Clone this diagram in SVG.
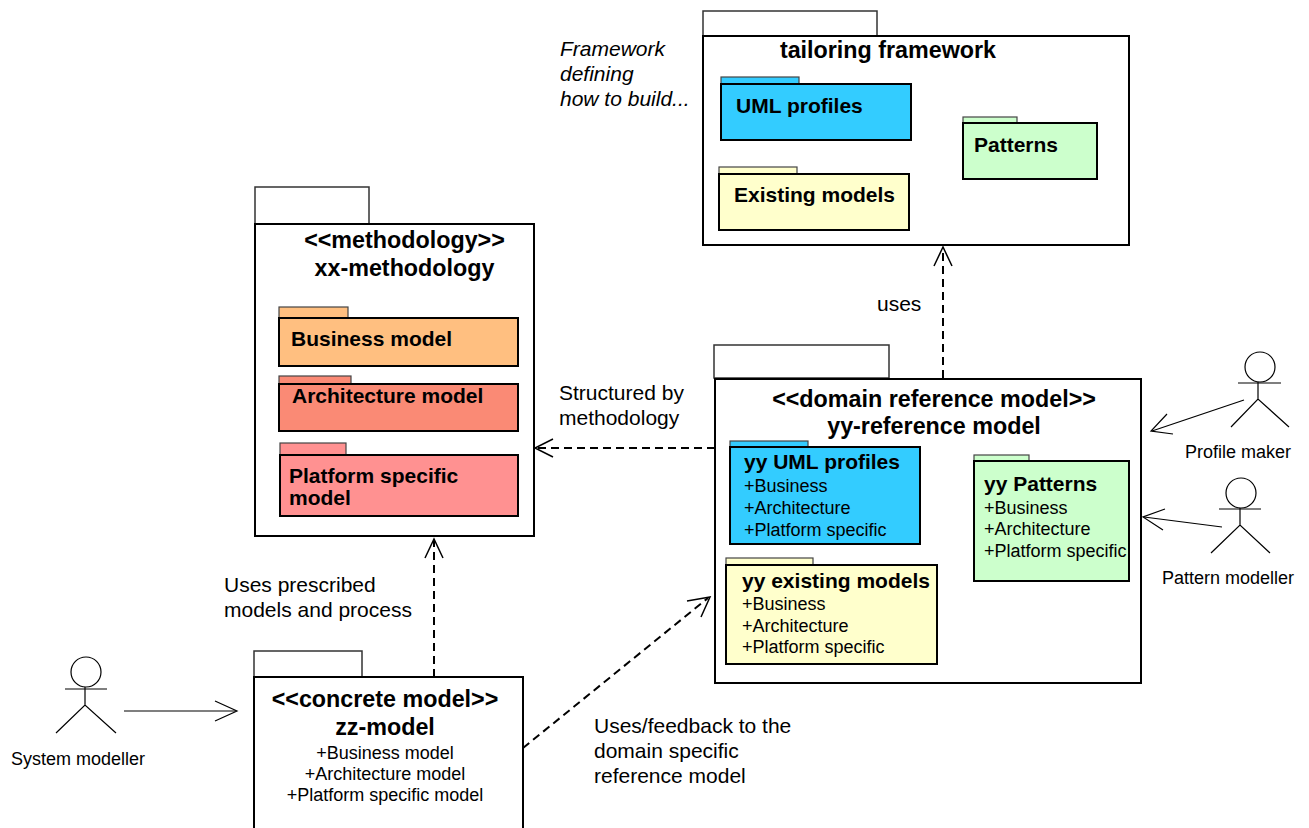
<svg xmlns="http://www.w3.org/2000/svg" width="1309" height="828" viewBox="0 0 1309 828">
<defs>
<style>
text{font-family:"Liberation Sans",Arial,sans-serif;fill:#000}
.pk{fill:#fff;stroke:#000;stroke-width:2}
.tab{fill:#fff;stroke:#333;stroke-width:1.5}
.ipk{stroke:#000;stroke-width:2}
.itab{stroke:#444;stroke-width:1.2}
.ttl{font-size:23.3px;font-weight:bold;text-anchor:middle}
.nm{font-size:21px;font-weight:bold}
.it{font-size:18px}
.lbl{font-size:21px}
.dash{fill:none;stroke:#000;stroke-width:2;stroke-dasharray:8 5}
.sol{fill:none;stroke:#000;stroke-width:1.2}
.ah{fill:none;stroke:#000;stroke-width:1.5}
.act{fill:none;stroke:#000;stroke-width:1.2}
</style>
</defs>

<g id="tailoring-framework">
<rect class="tab" x="703" y="11" width="174" height="25"/>
<rect class="pk" x="703" y="36" width="426" height="209"/>
<text class="ttl" x="888" y="58">tailoring framework</text>
</g>
<g id="uml-profiles">
<rect class="itab" x="721" y="77" width="78" height="7" fill="#33CCFF"/>
<rect class="ipk" x="721" y="84" width="190" height="56" fill="#33CCFF"/>
<text class="nm" x="736" y="113">UML profiles</text>
</g>
<g id="patterns">
<rect class="itab" x="963" y="117" width="54" height="6" fill="#CCFFCC"/>
<rect class="ipk" x="963" y="123" width="134" height="56" fill="#CCFFCC"/>
<text class="nm" x="974" y="152">Patterns</text>
</g>
<g id="existing-models">
<rect class="itab" x="719" y="167" width="78" height="7" fill="#FFFFCC"/>
<rect class="ipk" x="719" y="174" width="190" height="56" fill="#FFFFCC"/>
<text class="nm" x="734" y="202">Existing models</text>
</g>
<g id="framework-note">
<text class="lbl" font-style="italic" x="560" y="56">Framework</text>
<text class="lbl" font-style="italic" x="560" y="81">defining</text>
<text class="lbl" font-style="italic" x="560" y="106">how to build...</text>
</g>

<g id="xx-methodology">
<rect class="tab" x="255" y="187" width="114" height="37"/>
<rect class="pk" x="255" y="224" width="279" height="312"/>
<text class="ttl" x="404.5" y="248">&lt;&lt;methodology&gt;&gt;</text>
<text class="ttl" x="404.5" y="276">xx-methodology</text>
</g>
<g id="business-model">
<rect class="itab" x="279" y="307" width="69" height="11" fill="#FFBF80"/>
<rect class="ipk" x="279" y="318" width="239" height="48" fill="#FFBF80"/>
<text class="nm" x="291" y="346">Business model</text>
</g>
<g id="architecture-model">
<rect class="itab" x="279" y="376" width="72" height="8" fill="#FA8A75"/>
<rect class="ipk" x="279" y="384" width="239" height="47" fill="#FA8A75"/>
<text class="nm" x="292" y="403">Architecture model</text>
</g>
<g id="platform-specific-model">
<rect class="itab" x="280" y="443" width="66" height="12" fill="#FF9191"/>
<rect class="ipk" x="280" y="455" width="238" height="61" fill="#FF9191"/>
<text class="nm" x="289" y="483">Platform specific</text>
<text class="nm" x="289" y="505">model</text>
</g>

<g id="yy-reference-model">
<rect class="tab" x="714" y="345" width="175" height="33"/>
<rect class="pk" x="715" y="379" width="426" height="304"/>
<text class="ttl" x="934" y="407">&lt;&lt;domain reference model&gt;&gt;</text>
<text class="ttl" x="934" y="434">yy-reference model</text>
</g>
<g id="yy-uml-profiles">
<rect class="itab" x="730" y="441" width="78" height="7" fill="#33CCFF"/>
<rect class="ipk" x="730" y="447" width="190" height="97" fill="#33CCFF"/>
<text class="nm" x="744" y="469">yy UML profiles</text>
<text class="it" x="744" y="492">+Business</text>
<text class="it" x="744" y="514">+Architecture</text>
<text class="it" x="744" y="536">+Platform specific</text>
</g>
<g id="yy-patterns">
<rect class="itab" x="974" y="455" width="55" height="6" fill="#CCFFCC"/>
<rect class="ipk" x="974" y="461" width="155" height="120" fill="#CCFFCC"/>
<text class="nm" x="984" y="491">yy Patterns</text>
<text class="it" x="984" y="514">+Business</text>
<text class="it" x="984" y="535">+Architecture</text>
<text class="it" x="984" y="557">+Platform specific</text>
</g>
<g id="yy-existing-models">
<rect class="itab" x="726" y="558" width="87" height="7" fill="#FFFFCC"/>
<rect class="ipk" x="726" y="565" width="211" height="99" fill="#FFFFCC"/>
<text class="nm" x="742" y="588">yy existing models</text>
<text class="it" x="742" y="610">+Business</text>
<text class="it" x="742" y="632">+Architecture</text>
<text class="it" x="742" y="653">+Platform specific</text>
</g>

<g id="zz-model">
<rect class="tab" x="254" y="651" width="108" height="26"/>
<path class="pk" d="M254,832 V677 H523 V832"/>
<text class="ttl" x="385" y="707">&lt;&lt;concrete model&gt;&gt;</text>
<text class="ttl" x="385" y="735">zz-model</text>
<text class="it" x="385" y="759" text-anchor="middle">+Business model</text>
<text class="it" x="385" y="780" text-anchor="middle">+Architecture model</text>
<text class="it" x="385" y="801" text-anchor="middle">+Platform specific model</text>
</g>

<g id="system-modeller">
<circle class="act" cx="86" cy="672" r="15"/>
<line class="act" x1="65" y1="689" x2="107" y2="689" stroke="#555"/>
<path class="act" d="M85,687 V705 M56,733 L85,705 L116,733"/>
<text class="it" x="78" y="765" text-anchor="middle">System modeller</text>
</g>
<g id="profile-maker">
<circle class="act" cx="1260" cy="367" r="15"/>
<line class="act" x1="1238" y1="383" x2="1281" y2="383" stroke="#555"/>
<path class="act" d="M1258,382 V399 M1231,427 L1258,399 L1289,427"/>
<text class="it" x="1238" y="458" text-anchor="middle">Profile maker</text>
</g>
<g id="pattern-modeller">
<circle class="act" cx="1241" cy="493" r="15"/>
<line class="act" x1="1219" y1="509" x2="1261" y2="509" stroke="#555"/>
<path class="act" d="M1240,508 V525 M1211,553 L1240,525 L1270,553"/>
<text class="it" x="1228" y="584" text-anchor="middle">Pattern modeller</text>
</g>

<g id="connectors">
<line class="dash" x1="943" y1="378" x2="943" y2="248"/>
<path class="ah" d="M934,266 L943,247 L952,266"/>
<text class="lbl" x="877" y="311">uses</text>

<line class="dash" x1="715" y1="448" x2="537" y2="448"/>
<path class="ah" d="M553,439 L535,448 L553,457"/>
<text class="lbl" x="559" y="400">Structured by</text>
<text class="lbl" x="559" y="425">methodology</text>

<line class="dash" x1="434" y1="677" x2="434" y2="541"/>
<path class="ah" d="M425,558 L434,539 L443,558"/>
<text class="lbl" x="224" y="592">Uses prescribed</text>
<text class="lbl" x="224" y="617">models and process</text>

<line class="dash" x1="523" y1="748" x2="708" y2="598"/>
<path class="ah" d="M687,601 L710,597 L701,617"/>
<text class="lbl" x="594" y="733">Uses/feedback to the</text>
<text class="lbl" x="594" y="758">domain specific</text>
<text class="lbl" x="594" y="783">reference model</text>

<line class="sol" x1="124" y1="711" x2="236" y2="711"/>
<path class="sol" d="M215,701 L237,711 L215,721"/>

<line class="sol" x1="1244" y1="400" x2="1152" y2="431"/>
<path class="sol" d="M1167,414 L1151,431 L1173,434"/>

<line class="sol" x1="1222" y1="527" x2="1144" y2="517"/>
<path class="sol" d="M1165,509 L1143,517 L1163,530"/>
</g>
</svg>
